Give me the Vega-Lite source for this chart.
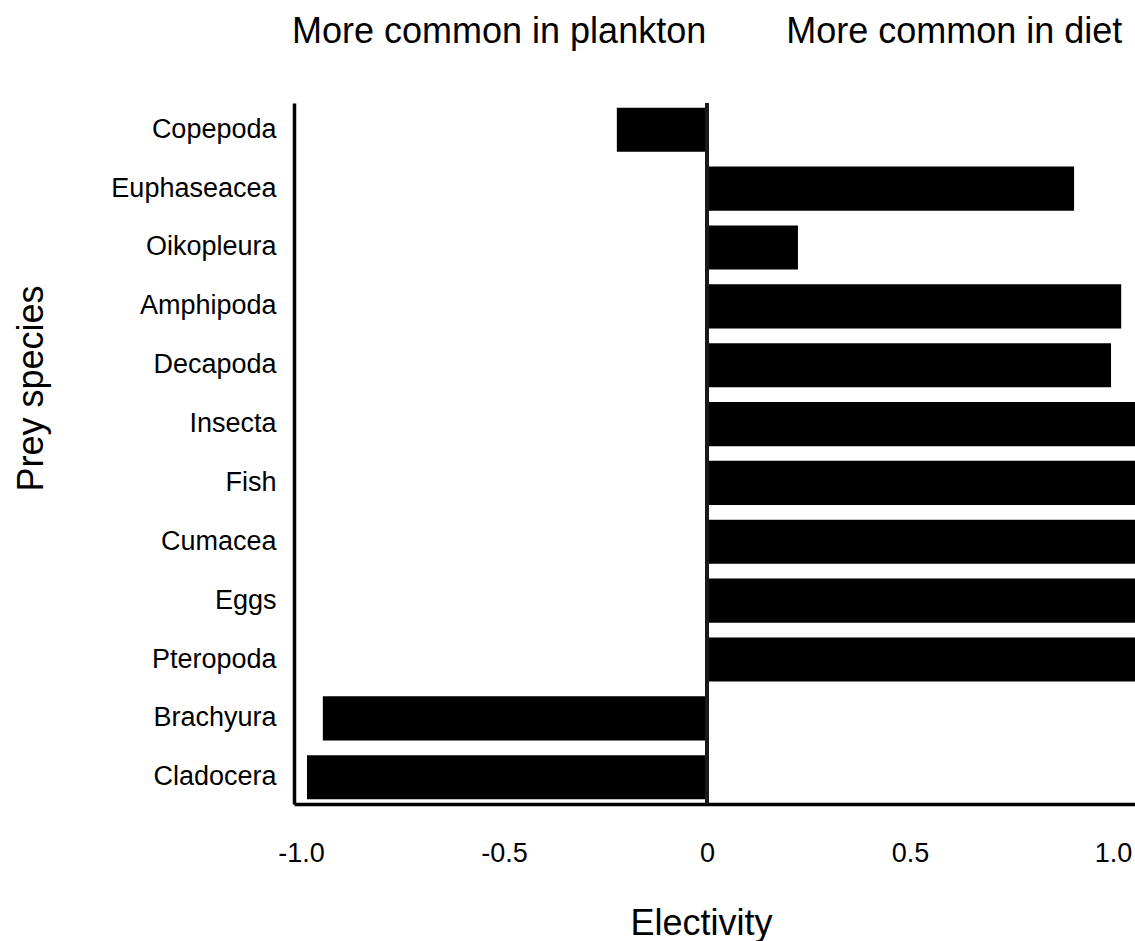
{
  "$schema": "https://vega.github.io/schema/vega-lite/v6.json",
  "width": 841,
  "height": 701,
  "autosize": {"type": "none"},
  "padding": {"left": 294, "top": 103, "right": 0, "bottom": 137},
  "background": "white",
  "title": {
    "text": "More common in plankton\u00a0\u00a0\u00a0\u00a0\u00a0\u00a0\u00a0\u00a0More common in diet",
    "anchor": "start",
    "frame": "group",
    "baseline": "alphabetic",
    "offset": 22,
    "dx": -2,
    "fontSize": 36,
    "font": "Liberation Sans",
    "fontWeight": "normal",
    "color": "black"
  },
  "config": {"view": {"stroke": null}, "font": "Liberation Sans"},
  "data": {
    "values": [
      {"prey": "Copepoda", "electivity": -0.222},
      {"prey": "Euphaseacea", "electivity": 0.904},
      {"prey": "Oikopleura", "electivity": 0.224},
      {"prey": "Amphipoda", "electivity": 1.02},
      {"prey": "Decapoda", "electivity": 0.995},
      {"prey": "Insecta", "electivity": 1.1},
      {"prey": "Fish", "electivity": 1.1},
      {"prey": "Cumacea", "electivity": 1.1},
      {"prey": "Eggs", "electivity": 1.1},
      {"prey": "Pteropoda", "electivity": 1.1},
      {"prey": "Brachyura", "electivity": -0.946},
      {"prey": "Cladocera", "electivity": -0.985}
    ]
  },
  "layer": [
    {
      "mark": {"type": "bar", "color": "black", "clip": true},
      "encoding": {
        "y": {
          "field": "prey",
          "type": "nominal",
          "sort": null,
          "scale": {"paddingInner": 0.25, "paddingOuter": 0.08},
          "axis": {
            "title": "Prey species",
            "ticks": false,
            "tickSize": 0,
            "grid": false,
            "domainColor": "black",
            "domainWidth": 3.5,
            "labelFont": "Liberation Sans",
            "labelFontSize": 27,
            "labelColor": "black",
            "labelPadding": 18,
            "titleFont": "Liberation Sans",
            "titleFontSize": 36,
            "titleFontWeight": "normal",
            "titleColor": "black",
            "titleBaseline": "alphabetic",
            "titleAngle": 270,
            "titleAlign": "center",
            "titleX": -252,
            "titleY": 285
          }
        },
        "x": {
          "field": "electivity",
          "type": "quantitative",
          "scale": {"domain": [-1.017, 1.054], "nice": false, "zero": false},
          "axis": {
            "title": "Electivity",
            "values": [-1, -0.5, 0, 0.5, 1],
            "labelExpr": "datum.value === 0 ? '0' : (datum.value < 0 ? '-' : '') + format(abs(datum.value), '.1f')",
            "ticks": false,
            "tickSize": 0,
            "grid": false,
            "domainColor": "black",
            "domainWidth": 3.5,
            "labelFont": "Liberation Sans",
            "labelFontSize": 27,
            "labelColor": "black",
            "labelBaseline": "alphabetic",
            "labelPadding": 57,
            "labelFlush": false,
            "labelOverlap": false,
            "titleFont": "Liberation Sans",
            "titleFontSize": 36,
            "titleFontWeight": "normal",
            "titleColor": "black",
            "titleBaseline": "alphabetic",
            "titleAlign": "center",
            "titleX": 407,
            "titleY": 130
          }
        }
      }
    },
    {
      "mark": {"type": "rule", "color": "#1a1a1a", "strokeWidth": 3.5},
      "encoding": {"x": {"datum": 0, "type": "quantitative"}}
    }
  ]
}
